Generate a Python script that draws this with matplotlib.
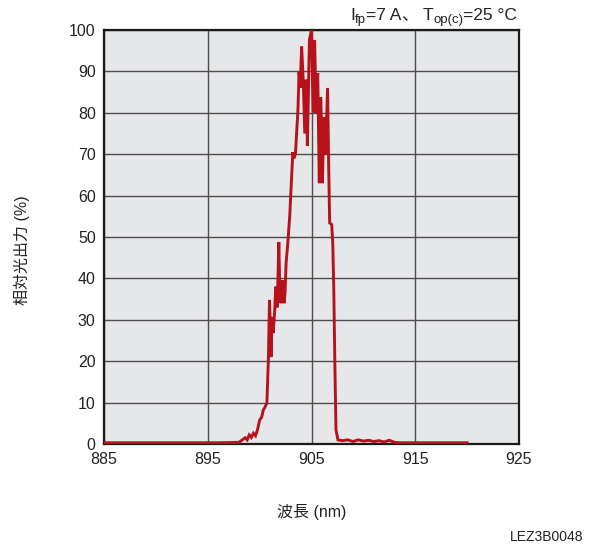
import matplotlib
matplotlib.use("Agg")
import matplotlib.pyplot as plt
import numpy as np

# ==========================================
# DATOS
# ==========================================
longitud_nm = [
    885.0, 887.0, 890.0, 893.0, 896.0, 898.0, 898.6, 898.8, 899.0, 899.2,
    899.4, 899.6, 899.8, 900.0, 900.2, 900.35, 900.5, 900.7, 900.85, 900.95,
    901.05, 901.1, 901.2, 901.3, 901.45, 901.55, 901.7, 901.85, 901.95, 902.05,
    902.2, 902.35, 902.45, 902.55, 902.7, 902.9, 903.2, 903.3, 903.45, 903.7,
    903.8, 903.9, 904.05, 904.2, 904.35, 904.5, 904.6, 904.8, 905.0, 905.15,
    905.3, 905.45, 905.6, 905.75, 905.9, 906.05, 906.2, 906.35, 906.55, 906.65,
    906.75, 906.95, 907.05, 907.15, 907.25, 907.36, 907.55, 908.0, 908.5, 909.0,
    909.5, 910.0, 910.5, 911.0, 911.5, 912.0, 912.5, 913.0, 913.5, 914.0,
    916.0, 918.0, 920.0,
]
potencia_rel = [
    0.3, 0.3, 0.3, 0.3, 0.3, 0.4, 1.5, 1.0, 2.2, 1.6,
    2.6, 2.0, 3.5, 5.8, 6.5, 8.2, 8.8, 9.9, 21.0, 34.8,
    27.0, 21.0, 30.7, 26.8, 32.0, 38.0, 33.0, 48.8, 36.5, 34.0,
    39.6, 34.0, 36.5, 43.7, 48.0, 55.0, 70.5, 69.0, 70.0, 81.0,
    90.0, 86.0, 96.0, 88.0, 75.0, 88.0, 72.0, 97.6, 100.0, 80.0,
    97.6, 80.0, 89.6, 63.0, 83.8, 63.0, 79.0, 70.0, 86.0, 68.0,
    53.4, 53.0, 48.5, 37.0, 19.6, 3.4, 1.0, 0.8, 1.0, 0.6,
    1.0, 0.7, 0.9, 0.6, 0.8, 0.5, 0.9, 0.4, 0.3, 0.3,
    0.3, 0.3, 0.3,
]
ticks_x = [885, 895, 905, 915, 925]
ticks_y = [0, 10, 20, 30, 40, 50, 60, 70, 80, 90, 100]

# texto de condiciones: (texto, tamaño, desplazamiento vertical en px)
condiciones = [("I", 12.5, 0), ("fp", 9.5, -3), ("=7 A", 12.5, 0), ("、", 12.5, 0),
               ("T", 12.5, 0), ("op(c)", 9.5, -3), ("=25 °C", 12.5, 0)]

plt.rcParams['font.family'] = ['Liberation Sans', 'Noto Sans CJK JP']

fig = plt.figure(figsize=(5.92, 5.49), dpi=100)
ax = fig.add_axes([104 / 592, 1 - 444 / 549, 415 / 592, 414 / 549])
ax.set_facecolor('#e6e7e9')

ax.plot(longitud_nm, potencia_rel, color='#b7121c', linewidth=2.1,
        solid_joinstyle='miter', zorder=3)

ax.set_xlim(885, 925)
ax.set_ylim(0, 100)
ax.set_xticks(ticks_x)
ax.set_yticks(ticks_y)
ax.tick_params(length=0, labelsize=11.5, pad=6, colors='#222222')
ax.grid(True, color='#4d4d4d', linewidth=1.0, zorder=1)
ax.set_axisbelow(True)
for s in ax.spines.values():
    s.set_linewidth(1.6)
    s.set_color('#1a1a1a')

fig.text(22 / 592, 1 - 250 / 549, '相対光出力 (%)', rotation=90,
         ha='center', va='center', fontsize=11.5, color='#222222')
fig.text(312 / 592, 1 - 512 / 549, '波長 (nm)', ha='center', va='center',
         fontsize=11.5, color='#222222')
fig.text(583 / 592, 1 - 537 / 549, 'LEZ3B0048', ha='right', va='center',
         fontsize=10, color='#222222')

# condiciones arriba a la derecha: se colocan trozo a trozo midiendo el ancho
renderer = fig.canvas.get_renderer()
x_px = 350.0
base_px = 549 - 20
for txt, size, dy in condiciones:
    if txt == "T":
        x_px += 4
    t = fig.text(x_px / 592, (base_px + dy) / 549, txt, ha='left', va='baseline',
                 fontsize=size, color='#222222')
    bb = t.get_window_extent(renderer)
    x_px += bb.width

fig.savefig('out.png', dpi=100)
